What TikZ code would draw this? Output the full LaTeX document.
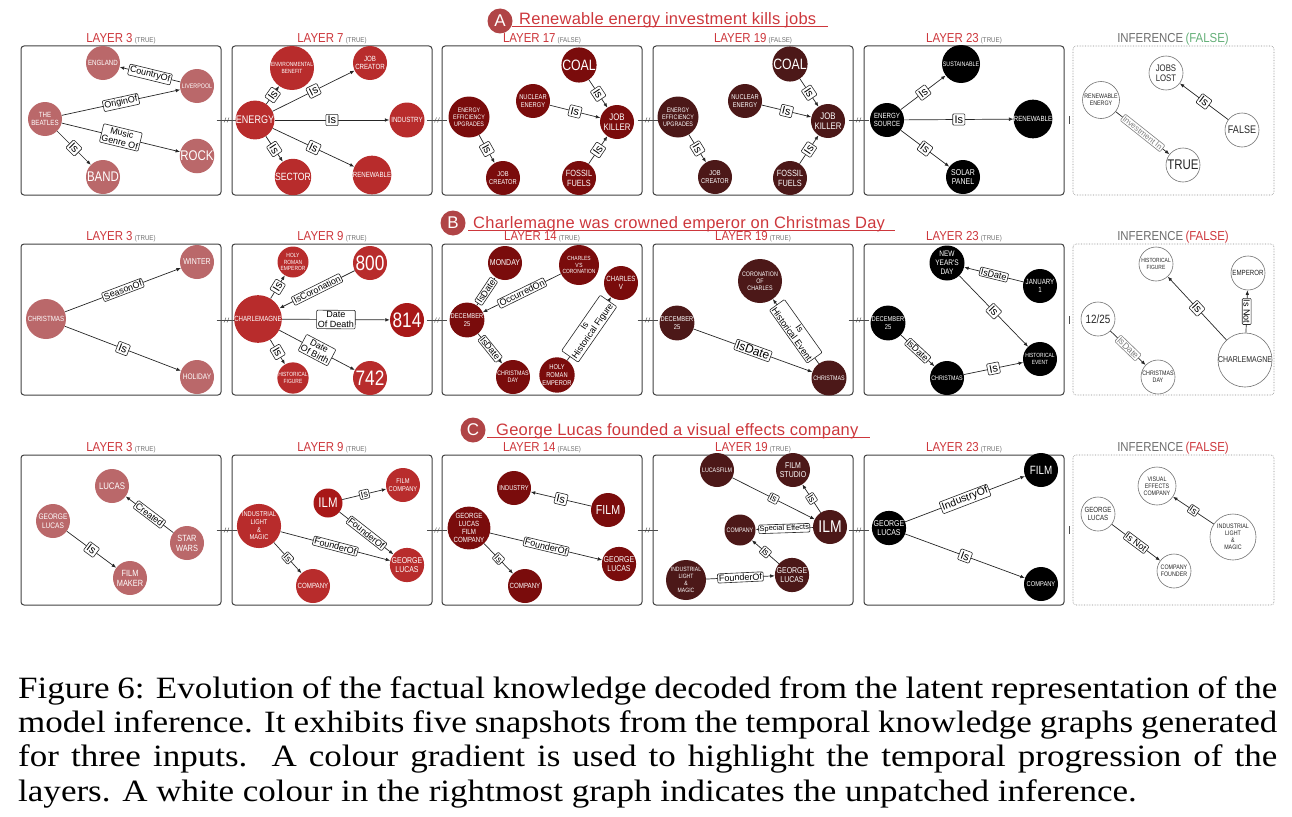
\documentclass[tikz,border=0pt]{standalone}
\usepackage{fontspec}
\setmainfont{Liberation Serif}
\newfontfamily\capfont{Liberation Serif}[FakeStretch=1.13]
\newfontfamily\nodefont{Liberation Sans}[FakeStretch=0.82]
\newfontfamily\titlefont{Liberation Sans}[FakeStretch=0.88]
\newfontfamily\lblfont{Liberation Sans}
\newfontfamily\headfont{Liberation Sans}[LetterSpace=1.5]
\usetikzlibrary{arrows.meta}
\definecolor{cA}{RGB}{186,104,106}
\definecolor{cB}{RGB}{184,44,44}
\definecolor{cBB}{RGB}{168,24,24}
\definecolor{cC}{RGB}{122,12,12}
\definecolor{cD}{RGB}{76,24,24}
\definecolor{ttl}{RGB}{205,55,60}
\definecolor{hdc}{RGB}{176,68,70}
\definecolor{grn}{RGB}{100,175,120}
\definecolor{tg}{RGB}{110,110,110}
\newcommand\tagfont{\titlefont\fontsize{7}{7}\selectfont\color{tg}}
\tikzset{
  nd/.style={circle, minimum size=34, inner sep=0pt, align=center, text=white, font=\nodefont},
  fs/.style={font={\nodefont\fontsize{#1}{\fpeval{#1*1.1}}\selectfont}},
  L3/.style={nd, fill=cA},
  L9/.style={nd, fill=cB},
  L14/.style={nd, fill=cC},
  L19/.style={nd, fill=cD},
  L23/.style={nd, fill=black},
  INF/.style={nd, fill=white, draw=black!55, line width=0.6, text=black!85},
  edg/.style={draw=black!85, line width=0.7, -{Latex[length=4.5pt,width=3.6pt]}},
  lb/.style={draw=black!85, fill=white, rounded corners=1, inner sep=1.3pt, sloped, align=center, text=black, line width=0.6, font={\lblfont\fontsize{9}{9.6}\selectfont}},
  lbi/.style={lb, inner sep=1.8pt, font={\lblfont\fontsize{11}{11}\selectfont}},
  lbg/.style={lb, draw=black!50, text=black!50},
  pbox/.style={draw=black!75, line width=1, rounded corners=3},
  ibox/.style={draw=black!45, line width=0.6, densely dotted, rounded corners=3},
  ltitle/.style={inner sep=0, anchor=base, text=ttl, font={\titlefont\fontsize{13}{13}\selectfont}},
  hdcirc/.style={circle, fill=hdc, minimum size=25, inner sep=0, text=white, font={\lblfont\fontsize{17}{17}\selectfont}},
  hdt/.style={inner sep=0, anchor=base west, text=ttl, font={\headfont\fontsize{16.5}{17}\selectfont}},
  hdl/.style={draw=ttl, line width=1},
  conn/.style={draw=black!70, line width=0.6},
  captext/.style={inner sep=0, anchor=base west, font={\capfont\fontsize{31}{34}\selectfont}}
}
\newcommand\pnl[6]{%
  \draw[pbox] (#2,#3) rectangle ({#2+200},#4);
  \node[ltitle] (#1) at ({#2+100},{#3-4}) {#5\,{\tagfont(#6)}};%
}
\newcommand\ipnl[5]{%
  \draw[ibox] (#2,#3) rectangle ({#2+201},#4);
  \node[ltitle, text=tg] (#1) at ({#2+100},{#3-4}) {INFERENCE\,\textcolor{#5}{(FALSE)}};%
}
\newcommand\gapc[2]{%
  \draw[conn] ({#1-10},#2) -- ({#1+10},#2);
  \draw[conn, line width=0.4] ({#1-2.5},{#2+2.5}) -- ({#1-0.5},{#2-2.5}) ({#1+0.5},{#2+2.5}) -- ({#1+2.5},{#2-2.5});%
}
\newcommand\tickc[2]{\draw[conn] (#1,{#2-4}) -- (#1,{#2+4});}
\begin{document}
\begin{tikzpicture}[x=1pt,y=-1pt]
\useasboundingbox (0,0) rectangle (1292,816);
% ================= Row A =================
\node[hdcirc] (hA) at (500,21) {A};
\node[hdt] (tA) at (519,25) {Renewable energy investment kills jobs};
\draw[hdl] (512,27) -- (828,27);
\pnl{tA1}{21}{46}{195}{LAYER 3}{TRUE}
\pnl{tA2}{232}{46}{195}{LAYER 7}{TRUE}
\pnl{tA3}{442}{46}{195}{LAYER 17}{FALSE}
\pnl{tA4}{653}{46}{195}{LAYER 19}{FALSE}
\pnl{tA5}{864}{46}{195}{LAYER 23}{TRUE}
\ipnl{tA6}{1073}{46}{195}{grn}
\gapc{226.5}{120}\gapc{437}{120}\gapc{647.5}{120}\gapc{858.5}{120}\tickc{1069}{120}
% panel 1
\node[L3,fs=7.5] (a1eng) at (103,63) {ENGLAND};
\node[L3,fs=6.5] (a1liv) at (197,86) {LIVERPOOL};
\node[L3,fs=7.5] (a1bea) at (45,119) {THE\\BEATLES};
\node[L3,fs=14] (a1roc) at (197,156) {ROCK};
\node[L3,fs=14] (a1ban) at (103,177) {BAND};
\draw[edg] (a1liv) -- node[lb]{CountryOf} (a1eng);
\draw[edg] (a1bea) -- node[lb]{OriginOf} (a1liv);
\draw[edg] (a1bea) -- node[lb]{Music\\Genre Of} (a1roc);
\draw[edg] (a1bea) -- node[lbi]{Is} (a1ban);
% panel 2
\node[L9,fs=6,minimum size=44] (a2env) at (292,68) {ENVIRONMENTAL\\BENEFIT};
\node[L9,fs=7.5] (a2job) at (370,63) {JOB\\CREATOR};
\node[L9,fs=11] (a2ene) at (255,120) {ENERGY};
\node[L9,fs=7.5,minimum size=35] (a2ind) at (407,120) {INDUSTRY};
\node[L9,fs=10.5] (a2sec) at (293,177) {SECTOR};
\node[L9,fs=7.5,minimum size=35] (a2ren) at (372,175) {RENEWABLE};
\draw[edg] (a2ene) -- node[lbi]{Is} (a2env);
\draw[edg] (a2ene) -- node[lbi]{Is} (a2job);
\draw[edg] (a2ene) -- node[lbi]{Is} (a2ind);
\draw[edg] (a2ene) -- node[lbi]{Is} (a2sec);
\draw[edg] (a2ene) -- node[lbi]{Is} (a2ren);
% panel 3
\node[L14,fs=15] (a3coa) at (579,65) {COAL};
\node[L14,fs=7] (a3nuc) at (533,101) {NUCLEAR\\ENERGY};
\node[L14,fs=6.5,minimum size=41] (a3eeu) at (469,117) {ENERGY\\EFFICIENCY\\UPGRADES};
\node[L14,fs=9.5] (a3jk) at (617,122) {JOB\\KILLER};
\node[L14,fs=7] (a3jc) at (503,178) {JOB\\CREATOR};
\node[L14,fs=9] (a3fos) at (579,178) {FOSSIL\\FUELS};
\draw[edg] (a3coa) -- node[lbi]{Is} (a3jk);
\draw[edg] (a3nuc) -- node[lbi]{Is} (a3jk);
\draw[edg] (a3fos) -- node[lbi]{Is} (a3jk);
\draw[edg] (a3eeu) -- node[lbi]{Is} (a3jc);
% panel 4
\node[L19,fs=15] (a4coa) at (790,64) {COAL};
\node[L19,fs=7] (a4nuc) at (745,101) {NUCLEAR\\ENERGY};
\node[L19,fs=6.5,minimum size=41] (a4eeu) at (678,117) {ENERGY\\EFFICIENCY\\UPGRADES};
\node[L19,fs=9.5] (a4jk) at (828,121) {JOB\\KILLER};
\node[L19,fs=7] (a4jc) at (715,177) {JOB\\CREATOR};
\node[L19,fs=9] (a4fos) at (790,178) {FOSSIL\\FUELS};
\draw[edg] (a4coa) -- node[lbi]{Is} (a4jk);
\draw[edg] (a4nuc) -- node[lbi]{Is} (a4jk);
\draw[edg] (a4fos) -- node[lbi]{Is} (a4jk);
\draw[edg] (a4eeu) -- node[lbi]{Is} (a4jc);
% panel 5
\node[L23,fs=6.5,minimum size=38] (a5sus) at (961,64) {SUSTAINABLE};
\node[L23,fs=7.5] (a5es) at (887,120) {ENERGY\\SOURCE};
\node[L23,fs=7.5,minimum size=38] (a5ren) at (1033,119) {RENEWABLE};
\node[L23,fs=8.5] (a5sol) at (963,177) {SOLAR\\PANEL};
\draw[edg] (a5es) -- node[lbi]{Is} (a5sus);
\draw[edg] (a5es) -- node[lbi]{Is} (a5ren);
\draw[edg] (a5es) -- node[lbi]{Is} (a5sol);
% panel 6
\node[INF,fs=9.5] (a6job) at (1166,73) {JOBS\\LOST};
\node[INF,fs=6.5,minimum size=37] (a6ren) at (1101,100) {RENEWABLE\\ENERGY};
\node[INF,fs=11] (a6fal) at (1242,130) {FALSE};
\node[INF,fs=14] (a6tru) at (1183,165) {TRUE};
\draw[edg] (a6fal) -- node[lbi]{Is} (a6job);
\draw[edg] (a6ren) -- node[lbg, font={\lblfont\fontsize{8}{8}\selectfont}]{Investment In} (a6tru);
% ================= Row B =================
\node[hdcirc] (hB) at (453,223) {B};
\node[hdt] (tB) at (473,228) {Charlemagne was crowned emperor on Christmas Day};
\draw[hdl] (468,230) -- (895,230);
\pnl{tB1}{21}{244}{395}{LAYER 3}{TRUE}
\pnl{tB2}{232}{244}{395}{LAYER 9}{TRUE}
\pnl{tB3}{442}{244}{395}{LAYER 14}{TRUE}
\pnl{tB4}{653}{244}{395}{LAYER 19}{TRUE}
\pnl{tB5}{864}{244}{395}{LAYER 23}{TRUE}
\ipnl{tB6}{1073}{244}{395}{ttl}
\gapc{226.5}{320}\gapc{437}{320}\gapc{647.5}{320}\gapc{858.5}{320}\tickc{1069}{320}
% panel 1
\node[L3,fs=7.5,minimum size=40] (b1chr) at (46,319) {CHRISTMAS};
\node[L3,fs=8.5] (b1win) at (197,262) {WINTER};
\node[L3,fs=8] (b1hol) at (197,377) {HOLIDAY};
\draw[edg] (b1chr) -- node[lb]{SeasonOf} (b1win);
\draw[edg] (b1chr) -- node[lbi]{Is} (b1hol);
% panel 2
\node[L9,fs=6,minimum size=31] (b2hre) at (293,262) {HOLY\\ROMAN\\EMPEROR};
\node[L9,fs=21] (b2800) at (370,263) {800};
\node[L9,fs=7.5,minimum size=42] (b2cha) at (258,319) {CHARLEMAGNE};
\node[L9,fs=21,fill=cBB] (b2814) at (407,320) {814};
\node[L9,fs=6,minimum size=31] (b2hf) at (293,378) {HISTORICAL\\FIGURE};
\node[L9,fs=21] (b2742) at (370,378) {742};
\draw[edg] (b2cha) -- node[lbi]{Is} (b2hre);
\draw[edg] (b2800) -- node[lb]{IsCoronation} (b2cha);
\draw[edg] (b2cha) -- node[lb]{Date\\Of Death} (b2814);
\draw[edg] (b2cha) -- node[lb]{Date\\Of Birth} (b2742);
\draw[edg] (b2cha) -- node[lbi]{Is} (b2hf);
% panel 3
\node[L14,fs=8.5] (b3mon) at (505,263) {MONDAY};
\node[L14,fs=6,minimum size=40] (b3cvc) at (579,265) {CHARLES\\V'S\\CORONATION};
\node[L14,fs=7.5] (b3cv) at (621,283) {CHARLES\\V};
\node[L14,fs=7] (b3dec) at (467,320) {DECEMBER\\25};
\node[L14,fs=6.5] (b3cd) at (513,377) {CHRISTMAS\\DAY};
\node[L14,fs=7,minimum size=35] (b3hre) at (557,375) {HOLY\\ROMAN\\EMPEROR};
\draw[edg] (b3dec) -- node[lb]{IsDate} (b3mon);
\draw[edg] (b3cvc) -- node[lb]{OccurredOn} (b3dec);
\draw[edg] (b3dec) -- node[lb]{IsDate} (b3cd);
\draw[edg] (b3hre) -- node[lb]{Is\\Historical Figure} (b3cv);
% panel 4
\node[L19,fs=6.5,minimum size=44] (b4cor) at (760,281) {CORONATION\\OF\\CHARLES};
\node[L19,fs=7] (b4dec) at (677,323) {DECEMBER\\25};
\node[L19,fs=6.5,minimum size=35] (b4chr) at (829,378) {CHRISTMAS};
\draw[edg] (b4dec) -- node[lb, font={\lblfont\fontsize{12}{12}\selectfont}]{IsDate} (b4chr);
\draw[edg] (b4chr) -- node[lb]{Is\\Historical Event} (b4cor);
% panel 5
\node[L23,fs=8,minimum size=35] (b5nyd) at (947,263) {NEW\\YEAR'S\\DAY};
\node[L23,fs=7.5] (b5jan) at (1040,286) {JANUARY\\1};
\node[L23,fs=7] (b5dec) at (888,323) {DECEMBER\\25};
\node[L23,fs=6] (b5hev) at (1040,359) {HISTORICAL\\EVENT};
\node[L23,fs=6.5] (b5chr) at (947,378) {CHRISTMAS};
\draw[edg] (b5jan) -- node[lb]{IsDate} (b5nyd);
\draw[edg] (b5nyd) -- node[lbi]{Is} (b5hev);
\draw[edg] (b5dec) -- node[lb]{IsDate} (b5chr);
\draw[edg] (b5chr) -- node[lbi]{Is} (b5hev);
% panel 6
\node[INF,fs=6] (b6hf) at (1156,264) {HISTORICAL\\FIGURE};
\node[INF,fs=7.5] (b6emp) at (1248,273) {EMPEROR};
\node[INF,fs=12] (b6dat) at (1098,319) {12/25};
\node[INF,fs=6.5] (b6cd) at (1158,377) {CHRISTMAS\\DAY};
\node[INF,fs=8.5,minimum size=52] (b6cha) at (1245,360) {CHARLEMAGNE};
\draw[edg] (b6cha) -- node[lbi]{Is} (b6hf);
\draw[edg] (b6cha) -- node[lb, sloped=false, rotate=-90]{Is Not} (b6emp);
\draw[edg] (b6dat) -- node[lbg]{IsDate} (b6cd);
% ================= Row C =================
\node[hdcirc] (hC) at (473,430) {C};
\node[hdt] (tC) at (496,435) {George Lucas founded a visual effects company};
\draw[hdl] (487,437) -- (870,437);
\pnl{tC1}{21}{455}{605}{LAYER 3}{TRUE}
\pnl{tC2}{232}{455}{605}{LAYER 9}{TRUE}
\pnl{tC3}{442}{455}{605}{LAYER 14}{FALSE}
\pnl{tC4}{653}{455}{605}{LAYER 19}{TRUE}
\pnl{tC5}{864}{455}{605}{LAYER 23}{TRUE}
\ipnl{tC6}{1073}{455}{605}{ttl}
\gapc{226.5}{530}\gapc{437}{530}\gapc{647.5}{530}\gapc{858.5}{530}\tickc{1069}{530}
% panel 1
\node[L3,fs=9.5] (c1luc) at (112,486) {LUCAS};
\node[L3,fs=8] (c1geo) at (53,521) {GEORGE\\LUCAS};
\node[L3,fs=9] (c1sw) at (187,543) {STAR\\WARS};
\node[L3,fs=9] (c1fm) at (130,578) {FILM\\MAKER};
\draw[edg] (c1sw) -- node[lb]{Created} (c1luc);
\draw[edg] (c1geo) -- node[lbi]{Is} (c1fm);
% panel 2
\node[L9,fs=14,fill=cBB,minimum size=29] (c2ilm) at (328,503) {ILM};
\node[L9,fs=7] (c2fc) at (403,485) {FILM\\COMPANY};
\node[L9,fs=7,minimum size=44] (c2ilmm) at (259,526) {INDUSTRIAL\\LIGHT\\\&\\MAGIC};
\node[L9,fs=8.5] (c2gl) at (407,565) {GEORGE\\LUCAS};
\node[L9,fs=7.5] (c2com) at (313,586) {COMPANY};
\draw[edg] (c2ilm) -- node[lb]{Is} (c2fc);
\draw[edg] (c2ilm) -- node[lb]{FounderOf} (c2gl);
\draw[edg] (c2ilmm) -- node[lb]{FounderOf} (c2gl);
\draw[edg] (c2ilmm) -- node[lb]{Is} (c2com);
% panel 3
\node[L14,fs=7] (c3ind) at (514,488) {INDUSTRY};
\node[L14,fs=13] (c3fil) at (608,510) {FILM};
\node[L14,fs=7.5,minimum size=42] (c3glf) at (469,528) {GEORGE\\LUCAS\\FILM\\COMPANY};
\node[L14,fs=8.5] (c3gl) at (619,564) {GEORGE\\LUCAS};
\node[L14,fs=7.5] (c3com) at (525,586) {COMPANY};
\draw[edg] (c3fil) -- node[lbi]{Is} (c3ind);
\draw[edg] (c3glf) -- node[lb]{FounderOf} (c3gl);
\draw[edg] (c3glf) -- node[lb]{Is} (c3com);
% panel 4
\node[L19,fs=6.5] (c4lf) at (717,470) {LUCASFILM};
\node[L19,fs=8.5] (c4fs) at (793,470) {FILM\\STUDIO};
\node[L19,fs=6.5,minimum size=31] (c4com) at (740,530) {COMPANY};
\node[L19,fs=17] (c4ilm) at (830,527) {ILM};
\node[L19,fs=6.2,minimum size=40] (c4ilmm) at (686,580) {INDUSTRIAL\\LIGHT\\\&\\MAGIC};
\node[L19,fs=8.5] (c4gl) at (792,575) {GEORGE\\LUCAS};
\draw[edg] (c4lf) -- node[lb]{Is} (c4ilm);
\draw[edg] (c4ilm) -- node[lb]{Is} (c4fs);
\draw[edg] (c4ilm) -- node[lb, inner sep=0.8pt, font={\lblfont\fontsize{7.5}{7.5}\selectfont}]{Special Effects} (c4com);
\draw[edg] (c4gl) -- node[lb]{Is} (c4com);
\draw[edg] (c4ilmm) -- node[lb]{FounderOf} (c4gl);
% panel 5
\node[L23,fs=12] (c5fil) at (1041,470) {FILM};
\node[L23,fs=8.5] (c5gl) at (889,528) {GEORGE\\LUCAS};
\node[L23,fs=7] (c5com) at (1041,584) {COMPANY};
\draw[edg] (c5gl) -- node[lb, font={\lblfont\fontsize{10.5}{10.5}\selectfont}]{IndustryOf} (c5fil);
\draw[edg] (c5gl) -- node[lbi]{Is} (c5com);
% panel 6
\node[INF,fs=6.5,minimum size=38] (c6vec) at (1157,486) {VISUAL\\EFFECTS\\COMPANY};
\node[INF,fs=7.5] (c6gl) at (1098,514) {GEORGE\\LUCAS};
\node[INF,fs=6.5,minimum size=46] (c6ilm) at (1233,537) {INDUSTRIAL\\LIGHT\\\&\\MAGIC};
\node[INF,fs=6.5] (c6cf) at (1174,571) {COMPANY\\FOUNDER};
\draw[edg] (c6ilm) -- node[lb]{Is} (c6vec);
\draw[edg] (c6gl) -- node[lb]{Is Not} (c6cf);
% ================= Caption =================
\node[captext] (cap1) at (18,698) {\makebox[1259pt][s]{Figure 6: Evolution of the factual knowledge decoded from the latent representation of the}};
\node[captext] (cap2) at (18,732) {\makebox[1259pt][s]{model inference. It exhibits five snapshots from the temporal knowledge graphs generated}};
\node[captext] (cap3) at (18,766) {\makebox[1259pt][s]{for three inputs.\ \ A colour gradient is used to highlight the temporal progression of the}};
\node[captext] (cap4) at (18,801) {layers. A white colour in the rightmost graph indicates the unpatched inference.};
\end{tikzpicture}
\end{document}
